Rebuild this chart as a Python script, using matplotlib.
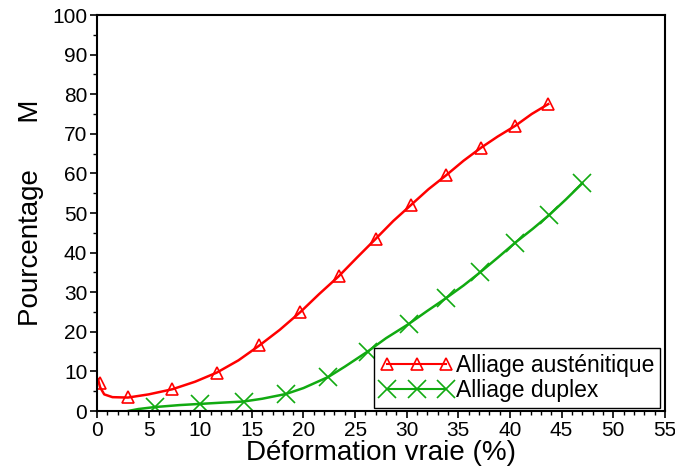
import matplotlib
matplotlib.use("Agg")
import matplotlib.pyplot as plt
from matplotlib.ticker import MultipleLocator

plt.rcParams['font.family'] = ['Liberation Sans', 'DejaVu Sans']

# courbe alliage austenitique
aus_x = [0.1, 0.3, 0.7, 1.5, 3.0, 5.0, 7.3, 9.5, 11.6, 13.7, 15.7, 17.7, 19.7,
         21.5, 23.4, 25.2, 27.0, 28.7, 30.4, 32.1, 33.8, 35.5, 37.2, 38.8,
         40.5, 42.1, 43.7]
aus_y = [8.0, 6.0, 4.2, 3.5, 3.4, 4.2, 5.5, 7.4, 9.7, 12.8, 16.5, 20.5, 25.0,
         29.5, 34.0, 38.8, 43.5, 48.0, 52.0, 56.0, 59.5, 63.2, 66.5, 69.3,
         72.0, 75.0, 77.5]
aus_mx = [0.3, 3.0, 7.3, 11.6, 15.7, 19.7, 23.4, 27.0, 30.4, 33.8, 37.2, 40.5, 43.7]
aus_my = [7.0, 3.5, 5.5, 9.7, 16.6, 25.0, 34.0, 43.5, 52.0, 59.5, 66.5, 72.0, 77.5]

# courbe alliage duplex
dup_x = [3.0, 4.0, 5.6, 8.0, 10.0, 12.0, 14.2, 16.0, 18.3, 20.0, 22.4, 24.0,
         26.2, 28.0, 30.2, 32.0, 33.8, 35.5, 37.1, 38.8, 40.5, 42.2, 43.8,
         45.4, 47.0]
dup_y = [0.0, 0.5, 1.0, 1.5, 1.8, 2.1, 2.4, 3.1, 4.3, 5.8, 8.6, 11.2,
         15.0, 18.4, 22.0, 25.3, 28.5, 31.7, 35.0, 38.7, 42.5, 46.0, 49.5,
         53.4, 57.5]
dup_mx = [5.6, 10.0, 14.2, 18.3, 22.4, 26.2, 30.2, 33.8, 37.1, 40.5, 43.8, 47.0]
dup_my = [1.0, 1.8, 2.4, 4.3, 8.6, 15.0, 22.0, 28.5, 35.0, 42.5, 49.5, 57.5]

rouge = '#FF0000'
vert = '#11AA11'

fig = plt.figure(figsize=(6.75, 4.75), dpi=100)
ax = fig.add_axes([0.1437, 0.1347, 0.8413, 0.8337])

ax.plot(aus_x, aus_y, color=rouge, lw=1.8)
ax.plot(aus_mx, aus_my, ls='none', marker='^', ms=9, mfc='none',
        mec=rouge, mew=1.2)
ax.plot(dup_x, dup_y, color=vert, lw=1.8)
ax.plot(dup_mx, dup_my, ls='none', marker='x', ms=13, mec=vert, mew=1.2)

# legende
h1, = ax.plot([], [], color=rouge, lw=1.5, marker='^', ms=9, mfc='none',
              mec=rouge, mew=1.2, label='Alliage austénitique')
h2, = ax.plot([], [], color=vert, lw=1.5, marker='x', ms=13, mec=vert,
              mew=1.2, label='Alliage duplex')
leg = ax.legend(handles=[h1, h2], loc='lower right',
                bbox_to_anchor=(0.991, 0.008), borderaxespad=0,
                numpoints=3, handlelength=3.2, handletextpad=0.1,
                fontsize=16.5, fancybox=False, framealpha=1,
                borderpad=0.25, labelspacing=0.1)
leg.get_frame().set_edgecolor('black')
leg.get_frame().set_linewidth(1.0)

ax.set_xlim(0, 55)
ax.set_ylim(0, 100)
ax.xaxis.set_major_locator(MultipleLocator(5))
ax.xaxis.set_minor_locator(MultipleLocator(1))
ax.yaxis.set_major_locator(MultipleLocator(10))
ax.yaxis.set_minor_locator(MultipleLocator(5))
ax.tick_params(which='major', direction='out', length=5, width=1.2,
               labelsize=15, top=False, right=False, pad=2)
ax.tick_params(which='minor', direction='out', length=3, width=1.0,
               top=False, right=False)
for s in ax.spines.values():
    s.set_linewidth(1.5)

ax.set_xlabel('Déformation vraie (%)', fontsize=20, labelpad=0)
ax.set_ylabel('Pourcentage      M', fontsize=20, labelpad=6)

fig.savefig('out.png', dpi=100)
